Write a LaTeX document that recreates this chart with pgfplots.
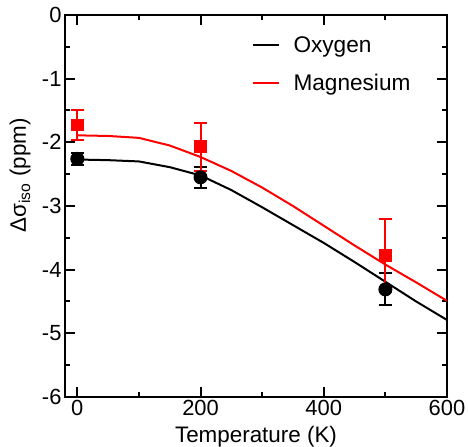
\documentclass[border=0pt]{standalone}
\usepackage{fontspec}
\setmainfont{Liberation Sans}
\usepackage{pgfplots}
\pgfplotsset{compat=1.18}

\begin{document}
\begin{tikzpicture}
\begin{axis}[
  scale only axis, width=382bp, height=382bp,
  xmin=-20, xmax=600, ymin=-6, ymax=0,
  xtick={0,200,400,600}, minor xtick={100,300,500},
  ytick={-6,-5,-4,-3,-2,-1,0}, minor ytick={-5.5,-4.5,-3.5,-2.5,-1.5,-0.5},
  tick align=inside, major tick length=10bp, minor tick length=5bp,
  axis line style={line width=2.2bp},
  every tick/.style={line width=2bp, black},
  /pgf/number format/assume math mode=true,
  tick label style={font=\fontsize{22}{25}\selectfont},
  label style={font=\fontsize{22.5}{26}\selectfont},
  xlabel={Temperature (K)}, ylabel={Δσ\textsubscript{iso} (ppm)},
  xlabel style={at={(rel axis cs:0.5,0)}, anchor=base, yshift=-45bp},
  ylabel style={at={(rel axis cs:0,0.58)}, anchor=center, yshift=45bp},
  legend style={at={(rel axis cs:0.48,0.955)}, anchor=north west, draw=none, fill=none,
    font=\fontsize{22.7}{26}\selectfont, row sep=16bp},
  legend cell align=left,
  legend image code/.code={\draw[#1] (0bp,0bp) -- (26bp,0bp); \path (38bp,0bp);},
]
% fitted curves
\addplot[black, line width=2bp] coordinates {
 (0,-2.27) (50,-2.28) (100,-2.30) (150,-2.39) (200,-2.52) (250,-2.75) (300,-3.02)
 (350,-3.30) (400,-3.58) (450,-3.88) (500,-4.19) (550,-4.50) (600,-4.79)};
\addlegendentry{Oxygen}
\addplot[red, line width=2bp] coordinates {
 (0,-1.89) (50,-1.90) (100,-1.93) (150,-2.05) (200,-2.23) (250,-2.45) (300,-2.71)
 (350,-3.00) (400,-3.31) (450,-3.62) (500,-3.92) (550,-4.20) (600,-4.49)};
\addlegendentry{Magnesium}
% data points
\addplot[forget plot, black, line width=2bp, only marks, mark=*, mark size=6bp,
  error bars/.cd, y dir=both, y explicit,
  error bar style={line width=2bp}, error mark options={rotate=90, mark size=6.5bp, line width=2bp}]
  coordinates {(0,-2.26) +- (0,0.10) (200,-2.55) +- (0,0.16) (500,-4.31) +- (0,0.25)};
\addplot[forget plot, red, line width=2bp, only marks, mark=square*, mark size=5.3bp,
  error bars/.cd, y dir=both, y explicit,
  error bar style={line width=2bp}, error mark options={rotate=90, mark size=6.5bp, line width=2bp}]
  coordinates {(0,-1.73) +- (0,0.24) (200,-2.07) +- (0,0.38) (500,-3.78) +- (0,0.57)};
\end{axis}
\pgfresetboundingbox
\path (-65bp,-50bp) rectangle (403bp,397bp);
\end{tikzpicture}
\end{document}
